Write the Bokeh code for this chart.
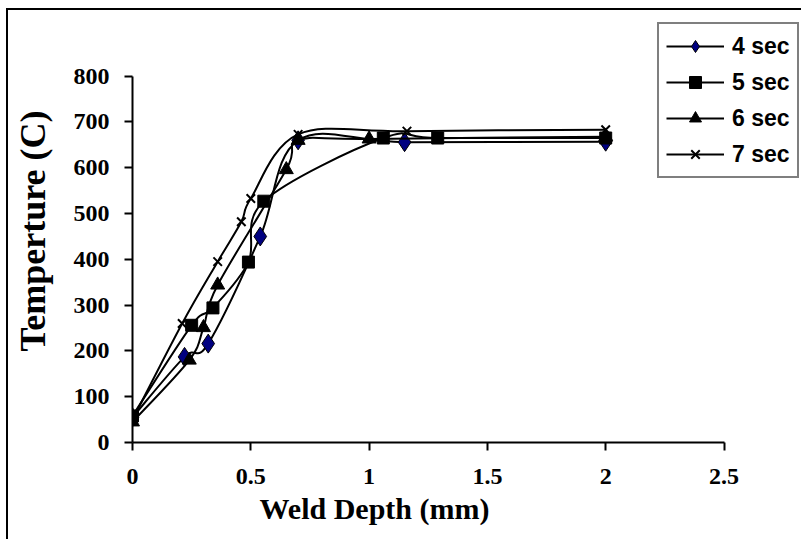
import numpy as np
from bokeh.plotting import figure
from bokeh.models import Range1d, Legend, LegendItem, Title, ColumnDataSource, FixedTicker
from bokeh.embed import file_html
from bokeh.resources import INLINE

# ---- data ----
series_names = ["4 sec", "5 sec", "6 sec", "7 sec"]
depth_4 = [0.0, 0.22, 0.32, 0.54, 0.70, 1.15, 2.0]
temp_4 = [55, 187, 216, 450, 660, 656, 657]
depth_5 = [0.0, 0.25, 0.34, 0.49, 0.555, 1.06, 1.29, 2.0]
temp_5 = [58, 256, 294, 394, 527, 665, 665, 665]
depth_6 = [0.0, 0.24, 0.30, 0.36, 0.65, 0.70, 1.0, 2.0]
temp_6 = [45, 180, 251, 344, 596, 660, 663, 668]
depth_7 = [0.0, 0.21, 0.36, 0.46, 0.50, 0.70, 1.16, 2.0]
temp_7 = [50, 260, 395, 482, 533, 673, 680, 683]

x_ticks = [0, 0.5, 1, 1.5, 2, 2.5]
x_tick_labels = ["0", "0.5", "1", "1.5", "2", "2.5"]
y_ticks = [0, 100, 200, 300, 400, 500, 600, 700, 800]

series = [
    (series_names[0], depth_4, temp_4, "diamond", 19, "#000080"),
    (series_names[1], depth_5, temp_5, "square", 12, "black"),
    (series_names[2], depth_6, temp_6, "triangle", 14, "black"),
    (series_names[3], depth_7, temp_7, "x", 12, "black"),
]


def smooth_segments(xs, ys):
    """Excel-style smoothed line: cubic Bezier segments through the data points."""
    x = np.asarray(xs, float)
    y = np.asarray(ys, float)
    n = len(x)
    seg = dict(x0=[], y0=[], x1=[], y1=[], cx0=[], cy0=[], cx1=[], cy1=[])
    for i in range(n - 1):
        ip = max(i - 1, 0)
        inn = min(i + 2, n - 1)
        seg["x0"].append(x[i]); seg["y0"].append(y[i])
        seg["x1"].append(x[i + 1]); seg["y1"].append(y[i + 1])
        seg["cx0"].append(x[i] + (x[i + 1] - x[ip]) / 6.0)
        seg["cy0"].append(y[i] + (y[i + 1] - y[ip]) / 6.0)
        seg["cx1"].append(x[i + 1] - (x[inn] - x[i]) / 6.0)
        seg["cy1"].append(y[i + 1] - (y[inn] - y[i]) / 6.0)
    return seg


# canvas starts at page (8, 10); frame: x 0..2.5 spans 591.5 px, y 0..800 spans 366 px
p = figure(width=795, height=531, x_range=Range1d(0, 2.836), y_range=Range1d(0, 943.5),
           output_backend="svg", toolbar_location=None,
           min_border_left=124, min_border_right=0, min_border_top=0, min_border_bottom=99)
p.outline_line_color = None
p.grid.visible = False
p.background_fill_color = "white"
p.border_fill_color = "white"

serif = "Liberation Serif"
for ax in (p.xaxis[0], p.yaxis[0]):
    ax.axis_line_color = "black"
    ax.axis_line_width = 2
    ax.major_tick_line_color = "black"
    ax.major_tick_line_width = 2
    ax.major_tick_out = 8
    ax.major_tick_in = 0
    ax.minor_tick_line_color = None
    ax.major_label_text_font = serif
    ax.major_label_text_font_style = "bold"
    ax.major_label_text_font_size = "24px"
    ax.major_label_text_color = "black"

p.xaxis.ticker = FixedTicker(ticks=x_ticks)
p.xaxis.major_label_overrides = {t: l for t, l in zip(x_ticks, x_tick_labels)}
p.xaxis.major_label_standoff = 18
p.xaxis.bounds = (0, 2.5)
p.yaxis.ticker = FixedTicker(ticks=y_ticks)
p.yaxis.major_label_standoff = 15
p.yaxis.bounds = (0, 800)

p.yaxis.axis_label = "Temperture  (C)"
p.yaxis.axis_label_text_font = serif
p.yaxis.axis_label_text_font_style = "bold"
p.yaxis.axis_label_text_font_size = "36px"
p.yaxis.axis_label_text_color = "black"
p.yaxis.axis_label_standoff = 18

xt = Title(text="Weld Depth (mm)", align="left", offset=127,
           text_font=serif, text_font_style="bold", text_font_size="30px",
           text_color="black", standoff=6)
p.add_layout(xt, "below")

items = []
for name, xs, ys, marker, size, fill in series:
    seg = smooth_segments(xs, ys)
    r_line = p.bezier(source=ColumnDataSource(seg), x0="x0", y0="y0", x1="x1", y1="y1",
                      cx0="cx0", cy0="cy0", cx1="cx1", cy1="cy1",
                      line_color="black", line_width=2)
    if marker == "x":
        r_mark = p.scatter(xs, ys, marker="x", size=size, line_color="black", line_width=2)
    else:
        r_mark = p.scatter(xs, ys, marker=marker, size=size, fill_color=fill,
                           line_color="black", line_width=1)
    items.append(LegendItem(label=name, renderers=[r_line, r_mark]))

legend = Legend(items=items, location=(525, 264),
                border_line_color="black", border_line_width=2,
                background_fill_color="white", background_fill_alpha=1,
                label_text_font="Liberation Sans", label_text_font_style="bold",
                label_text_font_size="23px", label_text_color="black",
                glyph_width=58, glyph_height=30, label_height=30, label_standoff=8,
                spacing=6, padding=7, margin=0)
p.add_layout(legend)

p.styles = {"margin-left": "6px", "margin-top": "8px",
            "border-left": "2px solid black", "border-top": "2px solid black"}

open("out.html", "w").write(file_html(p, INLINE))
